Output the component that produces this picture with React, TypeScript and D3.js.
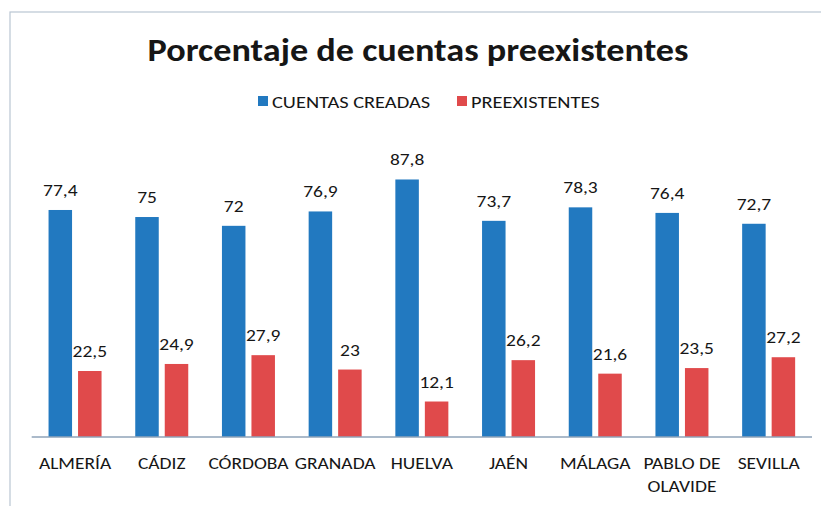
import React from "react";
import * as d3 from "d3";

const categories = ["ALMERÍA", "CÁDIZ", "CÓRDOBA", "GRANADA", "HUELVA", "JAÉN", "MÁLAGA", "PABLO DE OLAVIDE", "SEVILLA"];
const categoryLines = [["ALMERÍA"], ["CÁDIZ"], ["CÓRDOBA"], ["GRANADA"], ["HUELVA"], ["JAÉN"], ["MÁLAGA"], ["PABLO DE", "OLAVIDE"], ["SEVILLA"]];
const cuentasCreadas = [77.4, 75, 72, 76.9, 87.8, 73.7, 78.3, 76.4, 72.7];
const preexistentes = [22.5, 24.9, 27.9, 23, 12.1, 26.2, 21.6, 23.5, 27.2];
const seriesNames = ["CUENTAS CREADAS", "PREEXISTENTES"];
const colors = ["#2279C0", "#E04A4B"];

const W = 821;
const H = 506;
const FONT = "Carlito, Calibri, Lato, sans-serif";
const SX = 1.18;

function T({ x, y, size, anchor = "middle", bold = false, sx = SX, children }: any) {
  return (
    <text
      transform={`translate(${x},${y}) scale(${sx},1)`}
      textAnchor={anchor}
      fontFamily={FONT}
      fontSize={size}
      fontWeight={bold ? "bold" : "normal"}
      fill="#161616"
    >
      {children}
    </text>
  );
}

export default function App() {
  const x = d3.scaleBand<string>().domain(categories).range([31.7, 812]).padding(0);
  const y = d3.scaleLinear().domain([0, 100]).range([437, 143.7]);
  const barW = 23.5;
  const gap = 3;
  const fmt = (v: number) => String(v).replace(".", ",");

  return (
    <svg width={W} height={H} style={{ position: "absolute", left: 0, top: 0, background: "#fff" }}>
      <rect x={10} y={12} width={W} height={H} fill="#fff" stroke="#b9c6d3" strokeWidth={1.2} />
      <T x={418} y={61} size={31.5} bold sx={1.15}>Porcentaje de cuentas preexistentes</T>
      {/* legend */}
      <rect x={258} y={96} width={10} height={10} fill={colors[0]} />
      <T x={272} y={107.5} size={17} anchor="start" sx={1.2}>{seriesNames[0]}</T>
      <rect x={457} y={96} width={10} height={10} fill={colors[1]} />
      <T x={471} y={107.5} size={17} anchor="start" sx={1.2}>{seriesNames[1]}</T>
      {categories.map((c, i) => {
        const cx = (x(c) as number) + x.bandwidth() / 2;
        const v1 = cuentasCreadas[i];
        const v2 = preexistentes[i];
        return (
          <g key={c}>
            <rect x={cx - gap - barW} y={y(v1)} width={barW} height={y(0) - y(v1)} fill={colors[0]} />
            <rect x={cx + gap} y={y(v2)} width={barW} height={y(0) - y(v2)} fill={colors[1]} />
            <T x={cx - gap - barW / 2} y={y(v1) - 14} size={16.5}>{fmt(v1)}</T>
            <T x={cx + gap + barW / 2} y={y(v2) - 14} size={16.5}>{fmt(v2)}</T>
            {categoryLines[i].map((line, j) => (
              <T key={j} x={cx} y={469 + j * 23} size={16.5}>{line}</T>
            ))}
          </g>
        );
      })}
      <line x1={31.7} x2={812} y1={y(0)} y2={y(0)} stroke="#8fa3b8" strokeWidth={1.3} />
    </svg>
  );
}
